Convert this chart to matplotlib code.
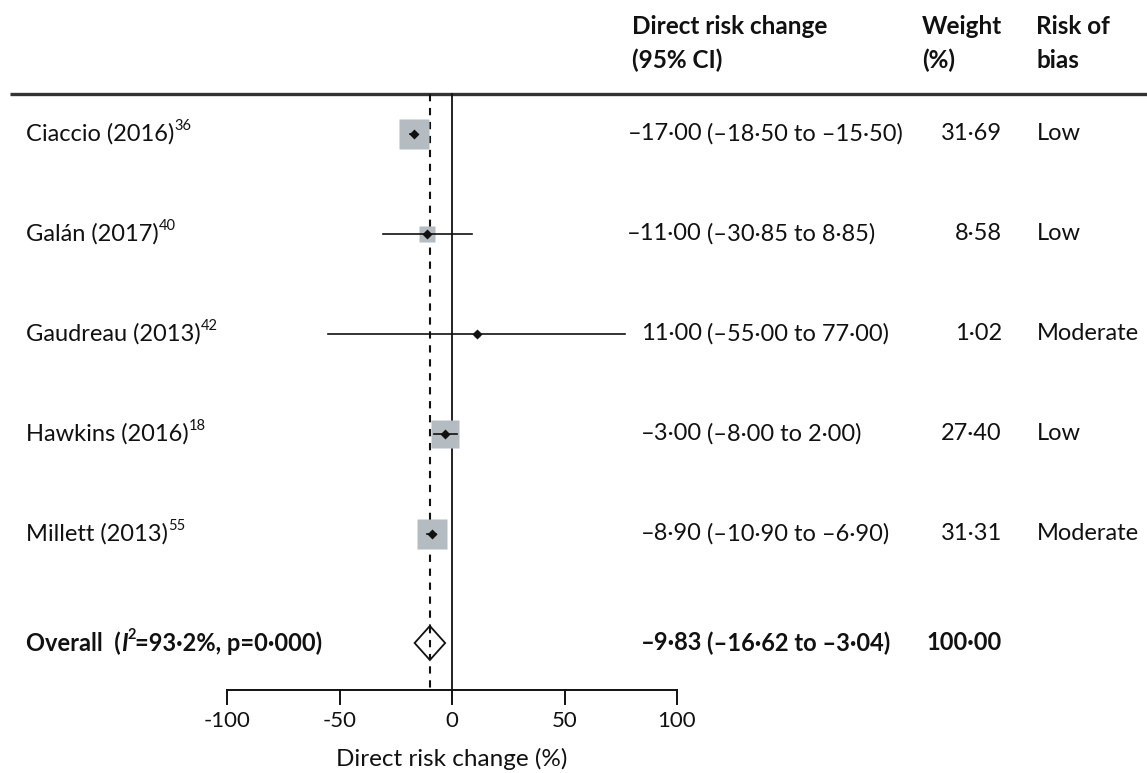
import matplotlib
matplotlib.use("Agg")
import matplotlib.pyplot as plt
from matplotlib import font_manager
from matplotlib.patches import Polygon

# ---------------- data ----------------
studies = ["Ciaccio (2016)", "Galán (2017)", "Gaudreau (2013)", "Hawkins (2016)", "Millett (2013)"]
refs = ["36", "40", "42", "18", "55"]
estimates = [-17.00, -11.00, 11.00, -3.00, -8.90]
ci_low = [-18.50, -30.85, -55.00, -8.00, -10.90]
ci_high = [-15.50, 8.85, 77.00, 2.00, -6.90]
weights = [31.69, 8.58, 1.02, 27.40, 31.31]
bias = ["Low", "Low", "Moderate", "Low", "Moderate"]
overall_est = -9.83
overall_low = -16.62
overall_high = -3.04
overall_weight = 100.00
overall_label = ("Overall  (", "I", "2", "=93·2%, p=0·000)")
xticks = [-100, -50, 0, 50, 100]
xlabel = "Direct risk change (%)"

# ---------------- style ----------------
names = {f.name for f in font_manager.fontManager.ttflist}
FONT = "Lato" if "Lato" in names else "DejaVu Sans"
FS = 17
TFS = 16
HFS = 17.5
BOX = "#b4bcc2"
INK = "#111111"

def fmt(v):
    s = f"{abs(v):.2f}".replace(".", "·")
    return ("–" if v < 0 else "") + s

# pixel layout helpers (figure is 1147 x 773 px at 100 dpi)
X0, PX_PER_UNIT = 452.0, 2.25
ROW0, ROW_STEP = 134.0, 100.0
def px2x(px):
    return (px - X0) / PX_PER_UNIT
def py2y(py):
    return (py - ROW0) / ROW_STEP

fig = plt.figure(figsize=(11.47, 7.73), dpi=100)
ax = fig.add_axes([0, 0, 1, 1])
ax.set_xlim(px2x(0), px2x(1147))
ax.set_ylim(py2y(773), py2y(0))
ax.axis("off")

rows = list(range(len(studies)))
y_overall = py2y(643)
y_top = py2y(94)
y_axis = py2y(690)

# header rule
ax.plot([px2x(10), px2x(1147)], [py2y(94), py2y(94)], color="#333333", lw=2.4, solid_capstyle="butt")

# reference lines
ax.plot([0, 0], [y_top, y_axis], color=INK, lw=1.3)
ax.plot([overall_est, overall_est], [y_top, y_axis], color=INK, lw=1.5,
        ls=(0, (3.5, 3.2)))

# CIs, boxes, points
for i in rows:
    ax.plot([ci_low[i], ci_high[i]], [i, i], color=INK, lw=1.2, zorder=3)
    ms = 3.96 * weights[i] ** 0.5
    ax.plot([estimates[i]], [i], marker="s", ms=ms, color=BOX, mec="none", zorder=2)
    ax.plot([estimates[i]], [i], marker="D", ms=4.6, color=INK, mec="none", zorder=4)

# overall diamond
dh = 0.17
diamond = Polygon([[overall_low, y_overall], [overall_est, y_overall - dh],
                   [overall_high, y_overall], [overall_est, y_overall + dh]],
                  closed=True, facecolor="white", edgecolor=INK, lw=1.3, zorder=3)
ax.add_patch(diamond)
ax.plot([overall_est, overall_est], [y_overall - dh, y_overall + dh], color=INK, lw=1.5,
        ls=(0, (3.5, 3.2)), zorder=4)

# x axis
ax.plot([xticks[0], xticks[-1]], [y_axis, y_axis], color=INK, lw=1.4)
for t in xticks:
    ax.plot([t, t], [y_axis, py2y(704)], color=INK, lw=1.4)
    ax.text(t, py2y(721), f"{t}", ha="center", va="center", fontsize=TFS, family=FONT, color=INK)
ax.text(0, py2y(759), xlabel, ha="center", va="center", fontsize=17.5, family=FONT, color=INK)

# headers
for x_px, lines in [(632, ["Direct risk change", "(95% CI)"]),
                    (922, ["Weight", "(%)"]),
                    (1036, ["Risk of", "bias"])]:
    for j, line in enumerate(lines):
        ax.text(px2x(x_px), py2y(26 + 34 * j), line, ha="left", va="center",
                fontsize=HFS, family=FONT, weight="bold", color=INK)

# study rows text
for i in rows:
    t = ax.text(px2x(26), i, studies[i], ha="left", va="center", fontsize=FS, family=FONT, color=INK)
    ax.annotate(refs[i], xy=(1.0, 0.55), xycoords=t, ha="left", va="bottom",
                fontsize=FS * 0.62, family=FONT, color=INK)
    ax.text(px2x(702), i, fmt(estimates[i]), ha="right", va="center", fontsize=FS, family=FONT, color=INK)
    ax.text(px2x(707), i, f"({fmt(ci_low[i])} to {fmt(ci_high[i])})", ha="left", va="center",
            fontsize=FS, family=FONT, color=INK)
    ax.text(px2x(1002), i, f"{weights[i]:.2f}".replace(".", "·"), ha="right", va="center",
            fontsize=FS, family=FONT, color=INK)
    ax.text(px2x(1037), i, bias[i], ha="left", va="center", fontsize=FS, family=FONT, color=INK)

# overall row text
t1 = ax.text(px2x(26), y_overall, overall_label[0], ha="left", va="center",
             fontsize=FS, family=FONT, weight="bold", color=INK)
t2 = ax.annotate(overall_label[1], xy=(1, 0), xycoords=t1, ha="left", va="bottom",
                 fontsize=FS, family=FONT, weight="bold", style="italic", color=INK)
t3 = ax.annotate(overall_label[2], xy=(1, 0.55), xycoords=t2, ha="left", va="bottom",
                 fontsize=FS * 0.62, family=FONT, weight="bold", color=INK)
t4 = ax.annotate(overall_label[3], xy=(1, 0), xycoords=t2, xytext=(8, 0), textcoords="offset pixels",
                 ha="left", va="bottom", fontsize=FS, family=FONT, weight="bold", color=INK)
ax.text(px2x(702), y_overall, fmt(overall_est), ha="right", va="center", fontsize=FS,
        family=FONT, weight="bold", color=INK)
ax.text(px2x(707), y_overall, f"({fmt(overall_low)} to {fmt(overall_high)})", ha="left", va="center",
        fontsize=FS, family=FONT, weight="bold", color=INK)
ax.text(px2x(1002), y_overall, f"{overall_weight:.2f}".replace(".", "·"), ha="right", va="center",
        fontsize=FS, family=FONT, weight="bold", color=INK)

fig.savefig("out.png", dpi=100)
